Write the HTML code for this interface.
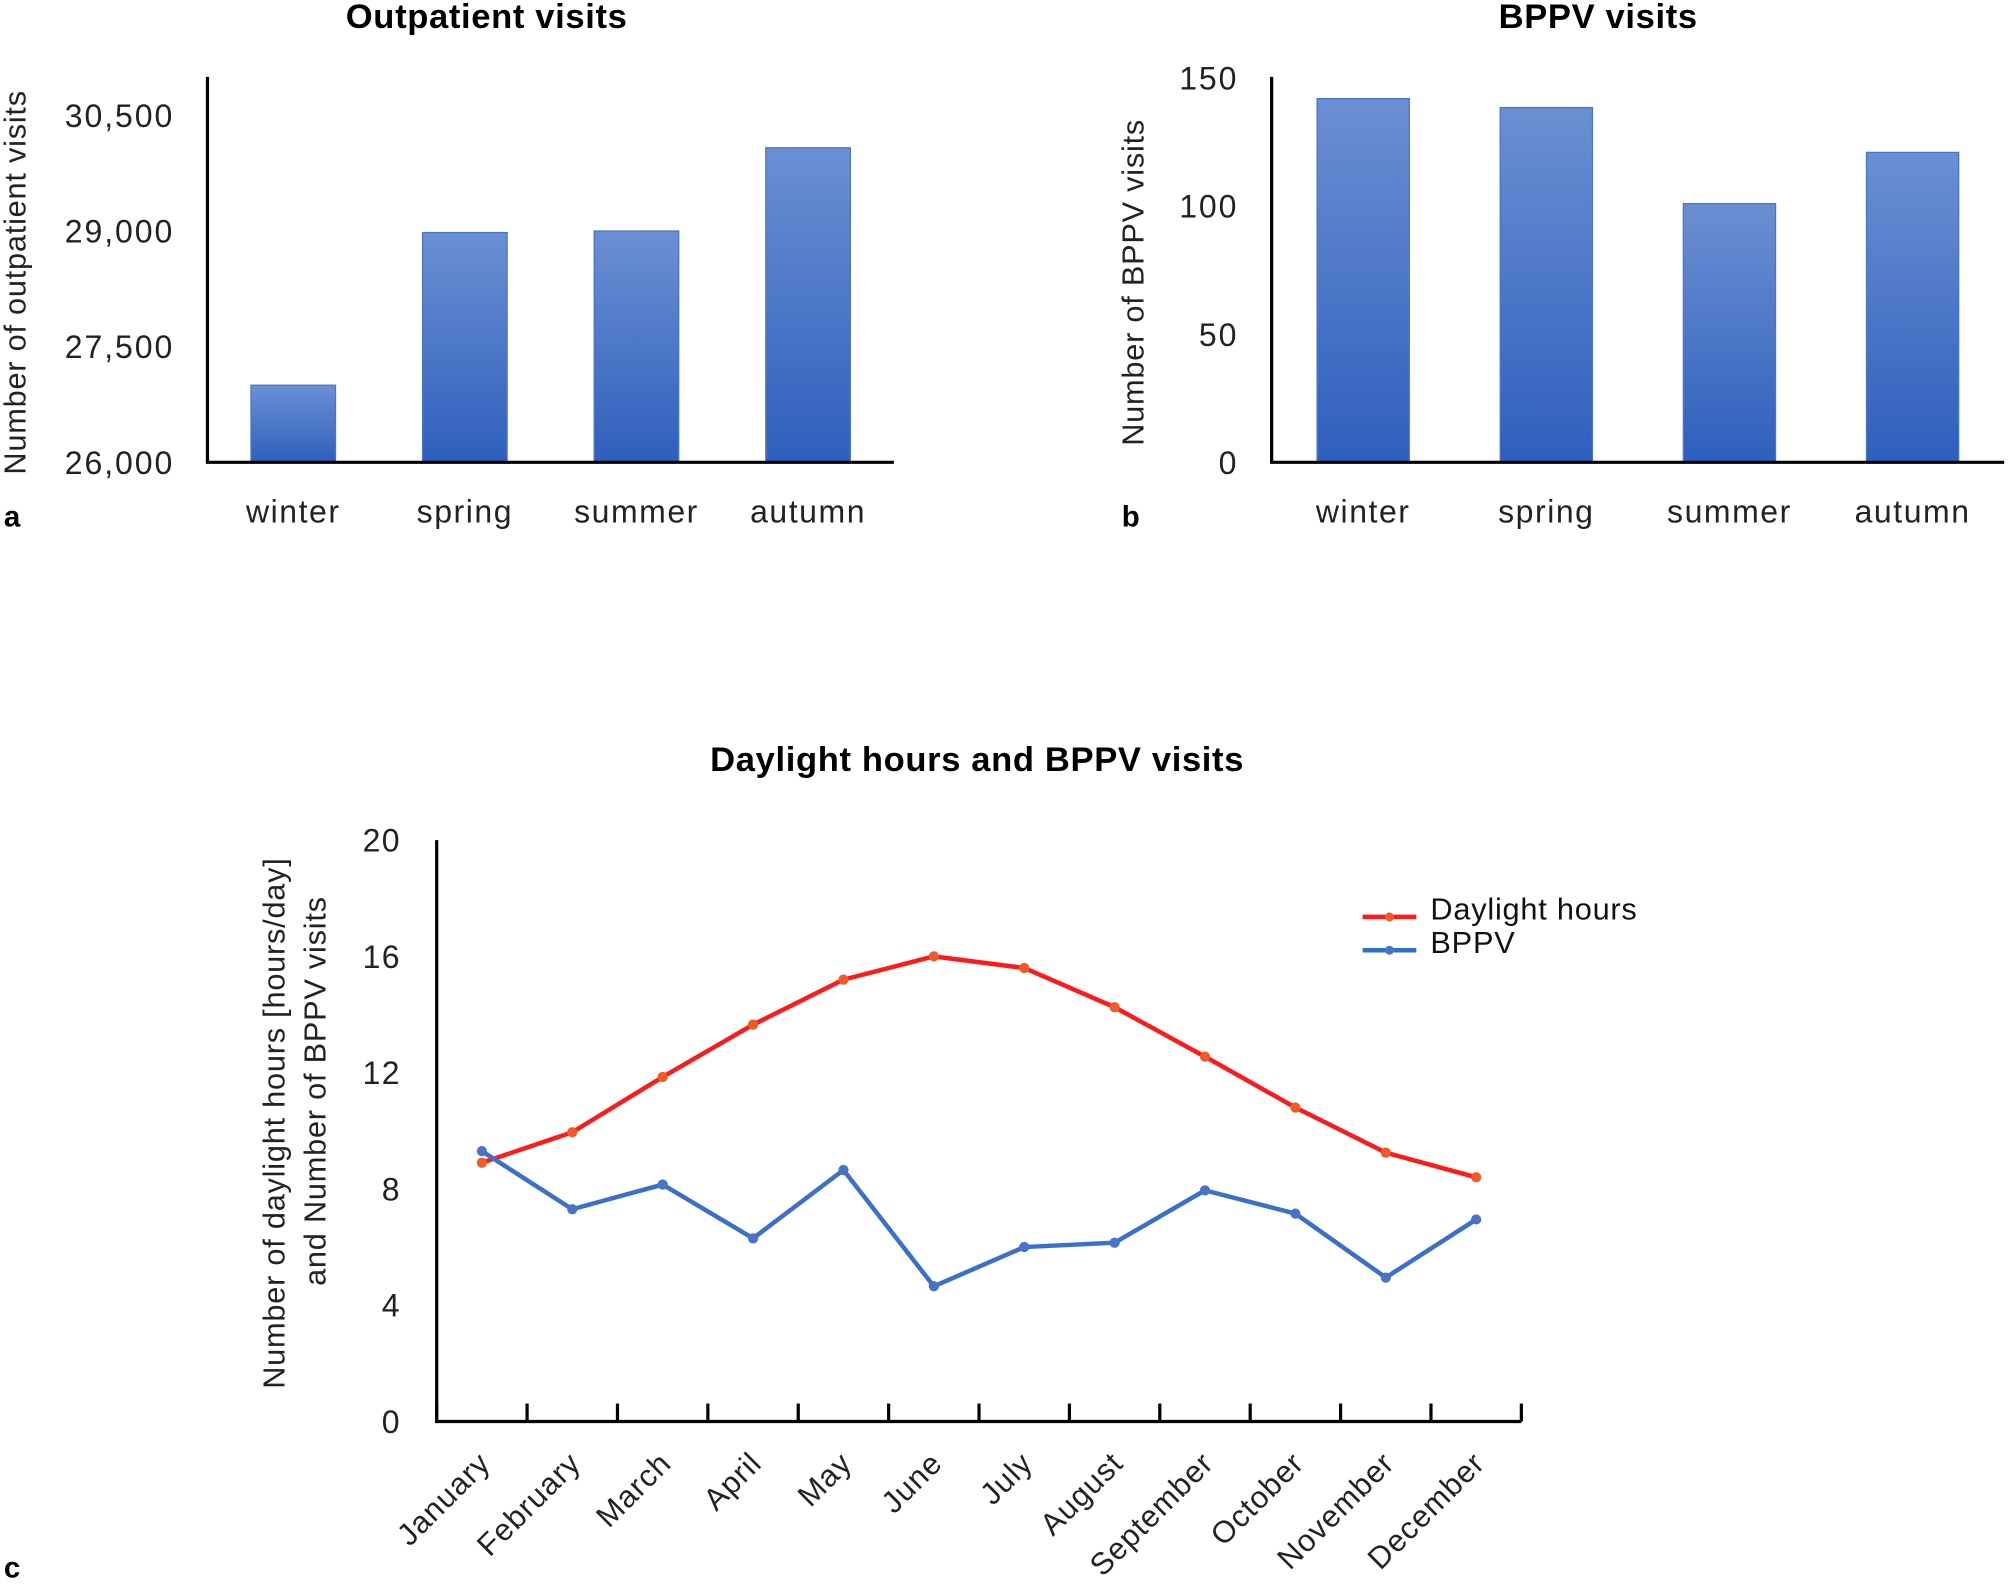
<!DOCTYPE html>
<html><head><meta charset="utf-8"><style>
html,body{margin:0;padding:0;background:#fff;}
svg{display:block;font-family:"Liberation Sans",sans-serif;}
</style></head><body>
<svg id="s" width="2008" height="1590" viewBox="0 0 1568 1241.6" xmlns="http://www.w3.org/2000/svg">
<defs>
<linearGradient id="bg" x1="0" y1="0" x2="0" y2="1">
<stop offset="0" stop-color="#6b8fd3"/><stop offset="1" stop-color="#2f5fbd"/>
</linearGradient>
</defs>
<g id="ga"></g>
<g id="gb"></g>
<g id="gc"></g>
</svg>
<script>
const seasons = ["winter","spring","summer","autumn"];
const outpatientValues = [27000, 28980, 29000, 30080];
const outpatientTicks = [26000, 27500, 29000, 30500];
const bppvSeasonValues = [142, 138.5, 101, 121];
const bppvSeasonTicks = [0, 50, 100, 150];
const months = ["January","February","March","April","May","June","July","August","September","October","November","December"];
const daylightValues = [8.9, 9.95, 11.85, 13.65, 15.2, 16.0, 15.6, 14.25, 12.55, 10.8, 9.25, 8.4];
const bppvMonthValues = [9.3, 7.3, 8.15, 6.3, 8.65, 4.65, 6.0, 6.15, 7.95, 7.15, 4.95, 6.95];
const monthTicks = [0, 4, 8, 12, 16, 20];

const NS = "http://www.w3.org/2000/svg";
function mk(parent, tag, attrs, text){
  const e = document.createElementNS(NS, tag);
  for (const k in attrs) e.setAttribute(k, attrs[k]);
  if (text !== undefined) e.textContent = text;
  parent.appendChild(e);
  return e;
}
function fmt(v){ return v.toLocaleString("en-US"); }

function barChart(g, cfg){
  const {x0,x1,y0,yTop,min,max,cats,vals,ticks,bw,title,titleX,ylabel,ylabelX,letter,letterX,tickX} = cfg;
  const ys = v => y0 - (v-min)/(max-min)*(y0-yTop);
  const bandW = (x1-x0)/cats.length;
  const xs = i => x0 + bandW*(i+0.5);
  let t = mk(g,"text",{x:titleX,y:22,"font-size":27,"font-weight":"bold","text-anchor":"middle","letter-spacing":0.5},title);
  
  
  vals.forEach((v,i)=>{
    const r = mk(g,"rect",{x:xs(i)-bw/2,y:ys(v),width:bw,height:y0-ys(v),fill:"url(#bg)",stroke:"#4a74c4","stroke-width":1});
    
    
    const l = mk(g,"text",{x:xs(i),y:y0+47,"font-size":25,"text-anchor":"middle",fill:"#222","letter-spacing":1.2},cats[i]);
    
    
  });
  ticks.forEach(v=>{
    const l = mk(g,"text",{x:tickX,y:ys(v)+9,"font-size":25,"text-anchor":"end",fill:"#222","letter-spacing":1.5},fmt(v));
    
    
  });
  let ax = mk(g,"path",{d:`M${x0} ${yTop} V${y0} H${x1}`,fill:"none",stroke:"#000","stroke-width":2.5});
  
  
  let yl = mk(g,"text",{transform:`translate(${ylabelX},${(yTop+y0)/2+10}) rotate(-90)`,"font-size":24,"text-anchor":"middle",fill:"#222","letter-spacing":0.6},ylabel);
  
  
  let lt = mk(g,"text",{x:letterX,y:411,"font-size":23,"font-weight":"bold"},letter);
  
  
}
barChart(document.getElementById("ga"),{x0:162,x1:698,y0:361,yTop:60,min:26000,max:31000,cats:seasons,vals:outpatientValues,ticks:outpatientTicks,bw:66,title:"Outpatient visits",titleX:380,ylabel:"Number of outpatient visits",ylabelX:20,letter:"a",letterX:3,tickX:136});
barChart(document.getElementById("gb"),{x0:993,x1:1565,y0:361,yTop:60,min:0,max:150.5,cats:seasons,vals:bppvSeasonValues,ticks:bppvSeasonTicks,bw:72,title:"BPPV  visits",titleX:1248,ylabel:"Number of BPPV visits",ylabelX:893,letter:"b",letterX:876,tickX:967});

(function(){
  const g = document.getElementById("gc");
  const x0=341,x1=1188,y0=1110,yTop=656;
  const ys = v => y0 - v/20*(y0-yTop);
  const step = (x1-x0)/months.length;
  const xs = i => x0 + step*(i+0.5);
  let t = mk(g,"text",{x:763,y:602,"font-size":27,"font-weight":"bold","text-anchor":"middle","letter-spacing":0.5},"Daylight hours and BPPV visits");
  
  
  monthTicks.forEach(v=>{
    const l = mk(g,"text",{x:313,y:ys(v)+9,"font-size":25,"text-anchor":"end",fill:"#222","letter-spacing":1},v);
    
    
  });
  let ax = mk(g,"path",{d:`M${x0} ${yTop} V${y0} H${x1}`,fill:"none",stroke:"#000","stroke-width":2.5});
  
  
  for(let i=0;i<=months.length;i++){
    const tk = mk(g,"line",{x1:x0+step*i,x2:x0+step*i,y1:y0,y2:y0-14,stroke:"#000","stroke-width":2.5});
    
    
  }
  months.forEach((m,i)=>{
    const l = mk(g,"text",{transform:`translate(${xs(i)+8},${y0+34}) rotate(-45)`,"font-size":24,"text-anchor":"end",fill:"#222","letter-spacing":0.8},m);
    
    
  });
  function series(vals,color,dot,name){
    const p = mk(g,"polyline",{points:vals.map((v,i)=>xs(i)+","+ys(v)).join(" "),fill:"none",stroke:color,"stroke-width":3.5,"stroke-linejoin":"round"});
    
    
    vals.forEach((v,i)=>{
      const c = mk(g,"circle",{cx:xs(i),cy:ys(v),r:4,fill:dot});
      
      
    });
  }
  series(daylightValues,"#ff1a1a","#f05a28","daylight");
  series(bppvMonthValues,"#3a6fcc","#4a72c8","bppv");
  let yl = mk(g,"text",{transform:"translate(222,877) rotate(-90)","font-size":24,"text-anchor":"middle",fill:"#222","letter-spacing":0.6},"Number of daylight hours [hours/day]");
  
  
  let yl2 = mk(g,"text",{transform:"translate(254,852) rotate(-90)","font-size":24,"text-anchor":"middle",fill:"#222","letter-spacing":0.6},"and Number of BPPV visits");
  
  
  const leg = mk(g,"g",{});
  
  
  [["Daylight hours","#ff1a1a","#f05a28",716],["BPPV","#2f6fd0","#4a72c8",742]].forEach(([n,c,d,y])=>{
    const e = mk(leg,"g",{});
    
    
    mk(e,"line",{x1:1064,x2:1106,y1:y,y2:y,stroke:c,"stroke-width":3.5});
    mk(e,"circle",{cx:1085,cy:y,r:3.5,fill:d});
    mk(e,"text",{x:1117,y:y+2,"font-size":24,fill:"#111","letter-spacing":0.6},n);
  });
  let lt = mk(g,"text",{x:3,y:1232,"font-size":23,"font-weight":"bold"},"c");
  
  
})();
</script>
</body></html>
